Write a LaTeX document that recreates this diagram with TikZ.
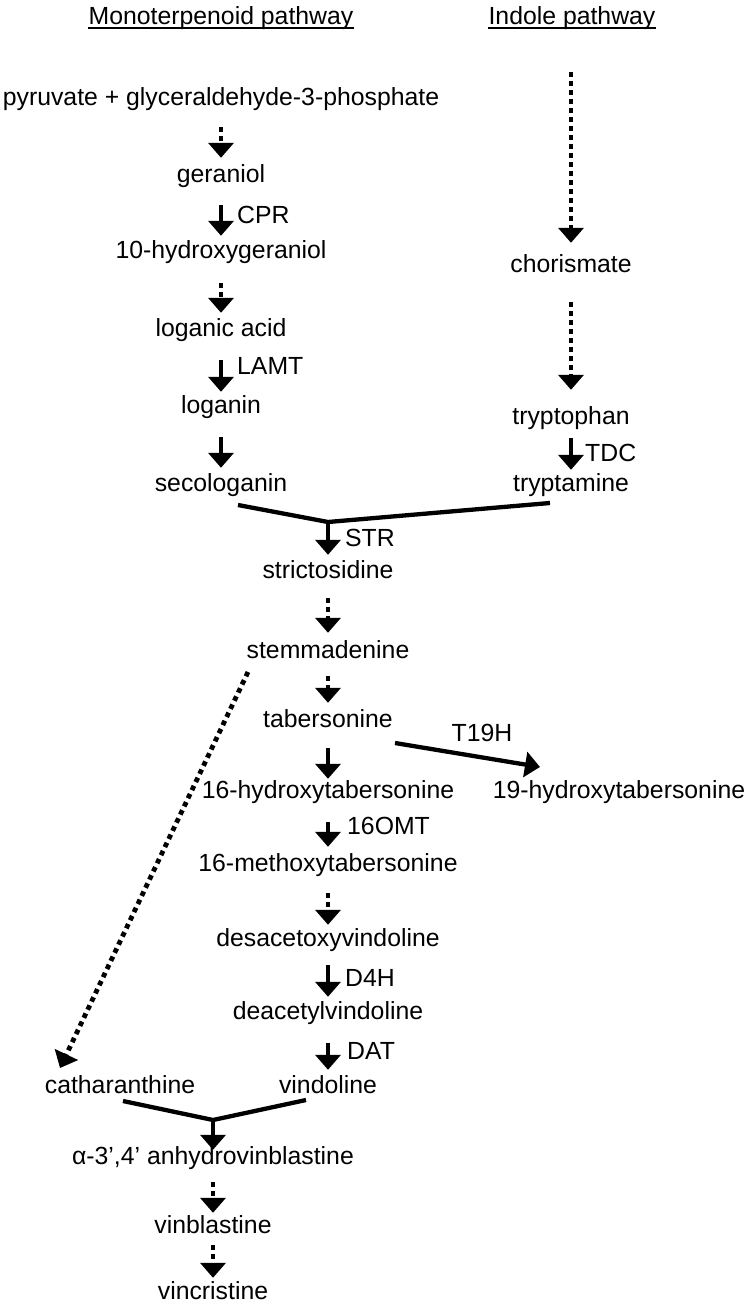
\documentclass[tikz,border=0pt]{standalone}
\usepackage{fontspec}
\setmainfont{Liberation Sans}
\usetikzlibrary{arrows.meta}
\begin{document}
\begin{tikzpicture}[x=1pt,y=-1pt,
  lbl/.style={inner sep=0pt, font=\fontsize{24.8}{29}\selectfont, text height=17pt, text depth=5pt},
  enz/.style={lbl, anchor=west},
  sarr/.style={line width=4.3pt, -{Triangle[width=25pt,length=15pt]}},
  darr/.style={line width=4.8pt, dash pattern=on 4.8pt off 4.2pt, -{Triangle[width=25pt,length=15pt]}},
  bline/.style={line width=4.3pt, line join=miter},
  uline/.style={line width=1.6pt}
]
\useasboundingbox (0,0) rectangle (747,1305);
% headers
\node[lbl] (h1) at (221,19) {Monoterpenoid pathway};
\node[lbl] (h2) at (572,19) {Indole pathway};
\draw[uline] ([yshift=-3pt]h1.base west) -- ([yshift=-3pt]h1.base east);
\draw[uline] ([yshift=-3pt]h2.base west) -- ([yshift=-3pt]h2.base east);
% monoterpenoid column
\node[lbl] (pyr)  at (221,100) {pyruvate + glyceraldehyde-3-phosphate};
\node[lbl] (ger)  at (221,177) {geraniol};
\node[lbl] (hger) at (221,253) {10-hydroxygeraniol};
\node[lbl] (lga)  at (221,330) {loganic acid};
\node[lbl] (lgn)  at (221,407) {loganin};
\node[lbl] (seco) at (221,485) {secologanin};
% indole column
\coordinate (itop) at (571,72);
\node[lbl] (chor) at (571,267) {chorismate};
\node[lbl] (trp)  at (571,418) {tryptophan};
\node[lbl] (tra)  at (571,485) {tryptamine};
% main lower column
\node[lbl] (str)  at (328,572) {strictosidine};
\node[lbl] (stem) at (328,652) {stemmadenine};
\node[lbl] (tab)  at (328,721) {tabersonine};
\node[lbl] (h16)  at (328,792) {16-hydroxytabersonine};
\node[lbl] (h19)  at (619,792) {19-hydroxytabersonine};
\node[lbl] (m16)  at (328,865) {16-methoxytabersonine};
\node[lbl] (dav)  at (328,940) {desacetoxyvindoline};
\node[lbl] (dac)  at (328,1013) {deacetylvindoline};
\node[lbl] (vind) at (328,1087) {vindoline};
\node[lbl] (cath) at (120,1087) {catharanthine};
\node[lbl] (anh)  at (213,1158) {α-3’,4’ anhydrovinblastine};
\node[lbl] (vbl)  at (213,1227) {vinblastine};
\node[lbl] (vcr)  at (213,1293) {vincristine};
% enzyme labels
\node[enz] (cpr)  at (237,218) {CPR};
\node[enz] (lamt) at (237,368) {LAMT};
\node[enz] (tdc)  at (585,455) {TDC};
\node[enz] (strl) at (345,540) {STR};
\node[lbl] (t19h) at (482,735) {T19H};
\node[enz] (omt)  at (347,828) {16OMT};
\node[enz] (d4h)  at (345,980) {D4H};
\node[enz] (dat)  at (347,1053) {DAT};
% connector end points
\coordinate (j1)  at (328,522);
\coordinate (sL)  at (238,505);
\coordinate (sR)  at (550,503);
\coordinate (j2)  at (213,1120);
\coordinate (cL)  at (123,1101);
\coordinate (cR)  at (306,1100);
\coordinate (t19s) at (395,743);
\coordinate (t19e) at (540,767);
\coordinate (dgs) at (248,672);
\coordinate (dge) at (60,1068);
% monoterpenoid arrows
\draw[darr, shorten <=16pt, shorten >=8pt] (pyr) -- (ger);
\draw[sarr, shorten <=17pt, shorten >=6pt] (ger) -- (hger);
\draw[darr, shorten <=19pt, shorten >=6pt] (hger) -- (lga);
\draw[sarr, shorten <=19pt, shorten >=4pt] (lga) -- (lgn);
\draw[sarr, shorten <=19pt, shorten >=6pt] (lgn) -- (seco);
% indole arrows
\draw[darr, shorten >=13pt] (itop) -- (chor);
\draw[darr, shorten <=24pt, shorten >=17pt] (chor) -- (trp);
\draw[sarr, shorten <=9pt, shorten >=4pt] (trp) -- (tra);
% condensation
\draw[bline] (sL) -- (j1) -- (sR);
\draw[sarr, shorten >=6pt] (j1) -- (str);
\draw[darr, shorten <=15pt, shorten >=8pt] (str) -- (stem);
\draw[darr, shorten <=13pt, shorten >=7pt] (stem) -- (tab);
\draw[sarr, shorten <=16pt, shorten >=2pt] (tab) -- (h16);
\draw[sarr] (t19s) -- (t19e);
\draw[sarr, shorten <=19pt, shorten >=7pt] (h16) -- (m16);
\draw[darr, shorten <=17pt, shorten >=4pt] (m16) -- (dav);
\draw[sarr, shorten <=14pt, shorten >=5pt] (dav) -- (dac);
\draw[sarr, shorten <=19pt, shorten >=6pt] (dac) -- (vind);
\draw[darr] (dgs) -- (dge);
% dimerisation
\draw[bline] (cL) -- (j2) -- (cR);
\draw[sarr, shorten >=-3pt] (j2) -- (anh);
\draw[darr, shorten <=13pt, shorten >=3pt] (anh) -- (vbl);
\draw[darr, shorten <=7pt, shorten >=4pt] (vbl) -- (vcr);
\end{tikzpicture}
\end{document}
